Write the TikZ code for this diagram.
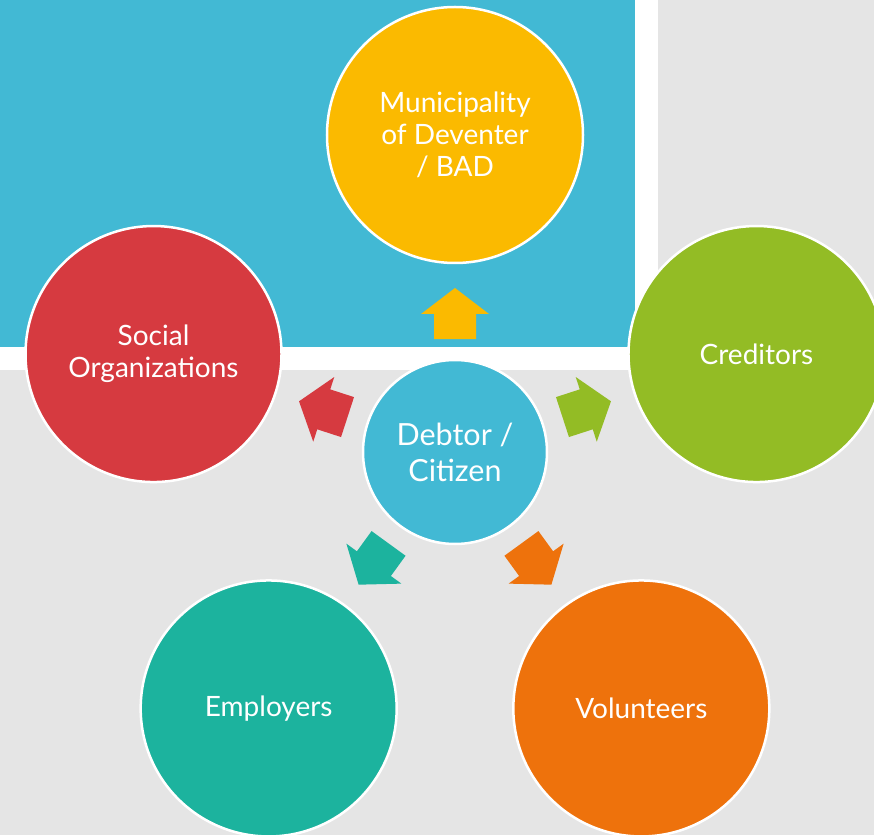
\documentclass[tikz,border=0pt]{standalone}
\usepackage{fontspec}
\setmainfont{Lato}
\definecolor{bgblue}{HTML}{42B9D4}
\definecolor{bggray}{HTML}{E5E5E5}
\definecolor{cyellow}{HTML}{FBBA00}
\definecolor{cgreen}{HTML}{93BC25}
\definecolor{cred}{HTML}{D63A40}
\definecolor{cteal}{HTML}{1CB39E}
\definecolor{corange}{HTML}{EE720C}

\begin{document}
\begin{tikzpicture}[x=1pt,y=1pt,
    hub/.style={circle,draw=white,line width=2.5pt,fill=bgblue,minimum size=184pt,
      inner sep=0pt,text=white,align=center,font=\fontsize{30.5}{36}\selectfont},
    party/.style={circle,draw=white,line width=2.5pt,minimum size=256pt,
      inner sep=0pt,text=white,align=center,font=\fontsize{28}{32}\selectfont}]

  \def\rr{317}

  % --- background panels ---
  \fill[bggray] (-455,-383) rectangle (419,452);
  \fill[white] (-455,82) rectangle (203,452);
  \fill[bgblue] (-455,105) rectangle (180,452);
  \useasboundingbox (-455,-383) rectangle (419,452);

  % --- circles ---
  \node[hub] (debtor) at (0,0) {Debtor /\\Citizen};
  \node[party,fill=cyellow] (muni) at (90:\rr) {Municipality\\of Deventer\\/ BAD};
  \node[party,fill=cgreen] (cred) at (18:\rr) {Creditors};
  \node[party,fill=cred] (social) at (162:\rr) {Social\\Organizations};
  \node[party,fill=cteal] (employ) at (234:\rr) {Employers};
  \node[party,fill=corange] (volun) at (306:\rr) {Volunteers};

  % --- block arrows out of the hub ---
  \foreach \a/\c in {90/cyellow,18/cgreen,162/cred,234/cteal,306/corange} {
    \fill[\c,shift={(debtor.center)},rotate=\a-90]
      (-21,113) -- (21,113) -- (21,138) -- (34,138) -- (0,164)
      -- (-34,138) -- (-21,138) -- cycle;
  }

\end{tikzpicture}
\end{document}
